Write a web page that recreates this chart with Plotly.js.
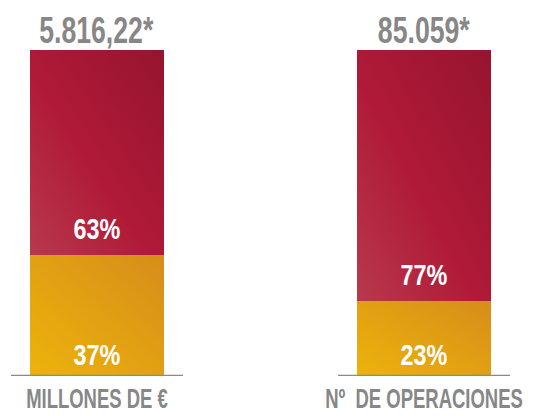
<!DOCTYPE html>
<html><head><meta charset="utf-8">
<script src="https://cdn.plot.ly/plotly-3.0.1.min.js"></script>
<style>html,body{margin:0;padding:0;background:#fff}</style>
</head><body>
<div id="chart" style="width:546px;height:416px"></div>
<script>
var categories = ["MILLONES DE €", "Nº\u00a0\u00a0DE OPERACIONES"];
var totals = ["5.816,22*", "85.059*"];
var yellowShare = [37, 23];
var redShare = [63, 77];

var FONT = "'Liberation Sans', Arial, sans-serif";
var xs = [0, 1];

var traces = [
  {type: "bar", x: xs, y: yellowShare, width: 0.41, name: "a",
   marker: {color: "#e3a212", line: {width: 0}}, hoverinfo: "skip"},
  {type: "bar", x: xs, y: redShare, width: 0.41, name: "b",
   marker: {color: "#ab1a35", line: {width: 0}}, hoverinfo: "skip"}
];

var annotations = [];
xs.forEach(function(x, i){
  annotations.push({x: x, y: 100, xref: "x", yref: "y", text: totals[i], showarrow: false,
    yanchor: "bottom", xanchor: "center", yshift: -3,
    font: {family: FONT, size: 37, color: "#878787", weight: "bold"}});
  annotations.push({x: x, y: 0, xref: "x", yref: "y", text: yellowShare[i] + "%", showarrow: false,
    yanchor: "bottom", xanchor: "center", yshift: 3,
    font: {family: FONT, size: 30, color: "#ffffff", weight: "bold"}});
  annotations.push({x: x, y: yellowShare[i], xref: "x", yref: "y", text: redShare[i] + "%", showarrow: false,
    yanchor: "bottom", xanchor: "center", yshift: 8,
    font: {family: FONT, size: 30, color: "#ffffff", weight: "bold"}});
});
var shapes = xs.map(function(x){
  return {type: "line", xref: "x", yref: "y", x0: x - 0.263, x1: x + 0.263, y0: 0, y1: 0,
    line: {color: "#8a8a8a", width: 2.5}};
});

var layout = {
  width: 546, height: 416,
  margin: {l: 0, r: 0, t: 50, b: 40},
  paper_bgcolor: "#ffffff", plot_bgcolor: "#ffffff",
  barmode: "stack", showlegend: false, bargap: 0,
  xaxis: {range: [-0.2966, 1.3731], tickvals: xs, ticktext: categories,
    showgrid: false, zeroline: false, showline: false, ticks: "", ticklen: 0,
    ticklabeloverflow: "allow", ticklabelstandoff: 3,
    tickfont: {family: FONT, size: 28, color: "#878787", weight: "bold"}, fixedrange: true},
  yaxis: {range: [0, 100], visible: false, fixedrange: true},
  annotations: annotations,
  shapes: shapes
};

function condense(nodes, factor){
  nodes.forEach(function(t){
    var w = t.getComputedTextLength();
    if (w > 0) {
      t.setAttribute("textLength", (w * factor).toFixed(1));
      t.setAttribute("lengthAdjust", "spacingAndGlyphs");
    }
  });
}

Plotly.newPlot("chart", traces, layout, {staticPlot: true, displayModeBar: false}).then(function(gd){
  var svg = gd.querySelector("svg.main-svg");
  var ns = "http://www.w3.org/2000/svg";
  var defs = svg.querySelector("defs") || svg.insertBefore(document.createElementNS(ns, "defs"), svg.firstChild);
  function grad(id, stops){
    var g = document.createElementNS(ns, "linearGradient");
    g.setAttribute("id", id);
    g.setAttribute("x1", "0"); g.setAttribute("y1", "1");
    g.setAttribute("x2", "1"); g.setAttribute("y2", "0");
    stops.forEach(function(s){
      var st = document.createElementNS(ns, "stop");
      st.setAttribute("offset", s[0]); st.setAttribute("stop-color", s[1]);
      g.appendChild(st);
    });
    defs.appendChild(g);
  }
  grad("gy", [["0", "#edb30b"], ["1", "#d68d1a"]]);
  grad("gr", [["0", "#b8394c"], ["0.45", "#b01a38"], ["1", "#96142f"]]);
  var tr = gd.querySelectorAll(".barlayer .trace");
  var ids = ["gy", "gr"];
  tr.forEach(function(t, i){
    t.querySelectorAll("path").forEach(function(p){ p.style.fill = "url(#" + ids[i] + ")"; });
  });
  gd.querySelectorAll(".annotation").forEach(function(a, k){
    var f = (k % 3 === 0) ? 0.72 : 0.78;
    condense(a.querySelectorAll("text"), f);
  });
  condense(gd.querySelectorAll(".xtick text"), 0.66);
});
</script>
</body></html>
